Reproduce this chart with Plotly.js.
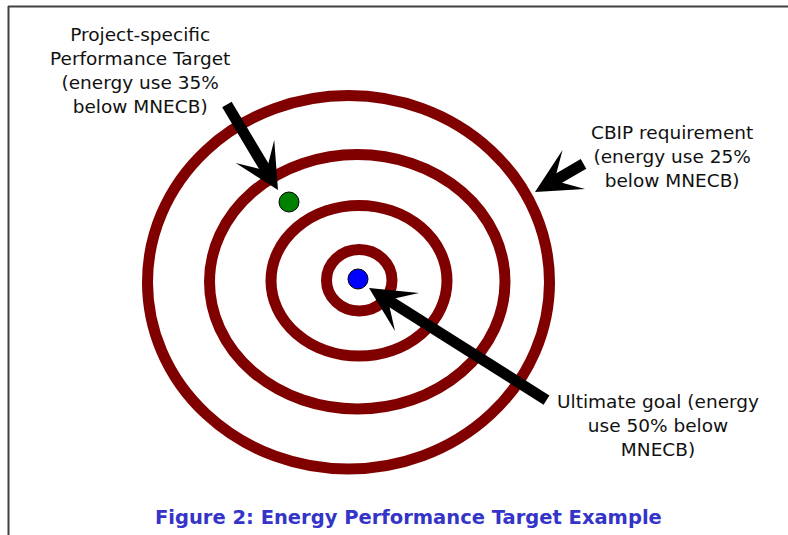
<!DOCTYPE html>
<html>
<head>
<meta charset="utf-8">
<script src="https://cdn.plot.ly/plotly-3.0.1.min.js"></script>
<style>html,body{margin:0;padding:0;background:#fff;}#chart{width:788px;height:535px;}</style>
</head>
<body>
<div id="chart"></div>
<script>
// Target rings (ellipse bounds, in picture units)
var ringNames = ['CBIP 25%', 'Project 35%', 'Intermediate', 'Ultimate 50%'];
var ringX0 = [147.5, 209.5, 271, 326.5];
var ringX1 = [549.5, 505, 447, 392];
var ringY0 = [95.5, 154.5, 205.5, 249.5];
var ringY1 = [469, 409, 356, 311];

// Target points
var pointNames = ['Project-specific target', 'Ultimate goal'];
var pointX = [289, 358];
var pointY = [202, 279];
var pointColors = ['#008000', '#0000FF'];

// Arrows: tail -> tip
var arrowTailX = [226, 585, 548];
var arrowTailY = [103, 163, 401];
var arrowTipX = [278, 535, 369];
var arrowTipY = [190, 192, 288];

// Labels
var labelTexts = [
  'Project-specific<br>Performance Target<br>(energy use 35%<br>below MNECB)',
  'CBIP requirement<br>(energy use 25%<br>below MNECB)',
  'Ultimate goal (energy<br>use 50% below<br>MNECB)'
];
var labelX = [140, 672, 658];
var labelY = [70, 156, 425];
var figureTitle = 'Figure 2: Energy Performance Target Example';

var shapes = [];
// frame lines
shapes.push({type:'line', xref:'x', yref:'y', x0:8, x1:788, y0:6.5, y1:6.5, line:{color:'#404040', width:2}});
shapes.push({type:'line', xref:'x', yref:'y', x0:8.5, x1:8.5, y0:6, y1:535, line:{color:'#404040', width:2}});
for (var i = 0; i < ringX0.length; i++) {
  shapes.push({type:'circle', xref:'x', yref:'y', x0:ringX0[i], x1:ringX1[i], y0:ringY0[i], y1:ringY1[i],
    line:{color:'#800000', width:11}, fillcolor:'rgba(0,0,0,0)', layer:'below'});
}

var annotations = [];
for (var j = 0; j < arrowTailX.length; j++) {
  annotations.push({x:arrowTipX[j], y:arrowTipY[j], ax:arrowTailX[j], ay:arrowTailY[j],
    xref:'x', yref:'y', axref:'x', ayref:'y', text:'', showarrow:true,
    arrowhead:3, arrowsize:0.68, arrowwidth:11, arrowcolor:'#000000', standoff:0});
}
for (var k = 0; k < labelTexts.length; k++) {
  annotations.push({x:labelX[k], y:labelY[k], xref:'x', yref:'y', text:labelTexts[k], showarrow:false,
    align:'center', xanchor:'center', yanchor:'middle',
    font:{family:'DejaVu Sans, Liberation Sans, Arial, sans-serif', size:18.5, color:'#111111'}});
}
annotations.push({x:408, y:517, xref:'x', yref:'y', text:'<b>' + figureTitle + '</b>', showarrow:false,
  xanchor:'center', yanchor:'middle',
  font:{family:'DejaVu Sans, Liberation Sans, Arial, sans-serif', size:19.5, color:'#3434C8'}});

var trace = {
  type:'scatter', mode:'markers', x:pointX, y:pointY, text:pointNames, hoverinfo:'text',
  marker:{size:20, color:pointColors, line:{color:'#000000', width:1}}
};

var layout = {
  width:788, height:535,
  margin:{l:0, r:0, t:0, b:0},
  paper_bgcolor:'#ffffff', plot_bgcolor:'#ffffff',
  showlegend:false,
  xaxis:{range:[0,788], visible:false, fixedrange:true},
  yaxis:{range:[535,0], visible:false, fixedrange:true},
  shapes:shapes,
  annotations:annotations
};

Plotly.newPlot('chart', [trace], layout, {displayModeBar:false, staticPlot:true});
</script>
</body>
</html>
